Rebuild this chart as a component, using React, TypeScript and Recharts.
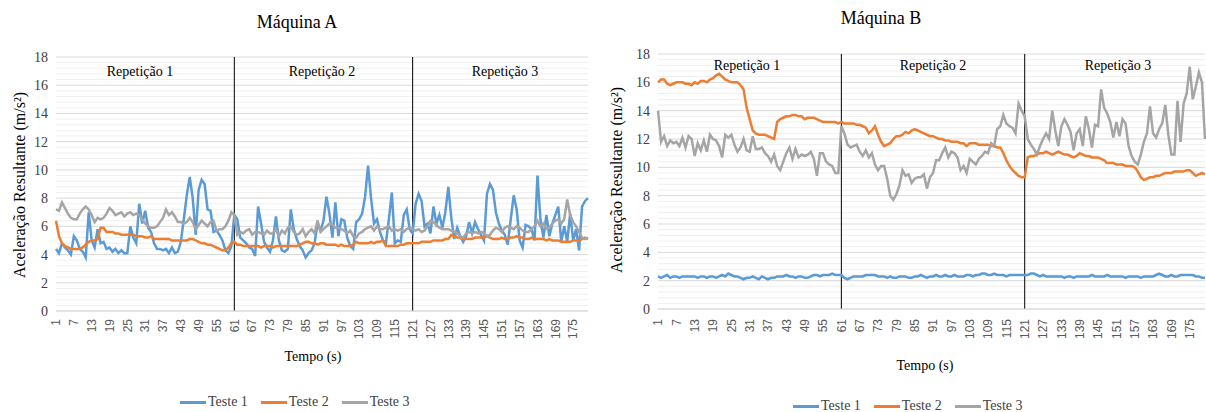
import React from 'react';
import { LineChart, Line, XAxis, YAxis, CartesianGrid, ReferenceLine } from 'recharts';

const seriesNames = ['Teste 1', 'Teste 2', 'Teste 3'];
const seriesColors = ['#5b9bd5', '#ed7d31', '#a5a5a5'];
const repLabels = ['Repetição 1', 'Repetição 2', 'Repetição 3'];
const repBoundaries = [61, 121];
const yTicks = [0, 2, 4, 6, 8, 10, 12, 14, 16, 18];
const minorY = [0.4, 0.8, 1.2, 1.6, 2.4, 2.8, 3.2, 3.6, 4.4, 4.8, 5.2, 5.6, 6.4, 6.8, 7.2, 7.6, 8.4, 8.8, 9.2, 9.6,
  10.4, 10.8, 11.2, 11.6, 12.4, 12.8, 13.2, 13.6, 14.4, 14.8, 15.2, 15.6, 16.4, 16.8, 17.2, 17.6];
const times = Array.from({ length: 180 }, (_, i) => i + 1);

// Máquina A
const aT1 = [
  4.4, 4.1, 4.8, 4.5, 4.3, 4.0, 5.3, 5.0, 4.4, 4.2,
  3.8, 7.0, 5.0, 4.5, 5.8, 4.8, 4.9, 4.4, 4.5, 4.2,
  4.4, 4.1, 4.3, 4.1, 4.1, 6.0, 5.2, 4.8, 7.6, 6.2,
  7.1, 5.9, 5.6, 4.8, 4.4, 4.4, 4.3, 4.4, 4.1, 4.5,
  4.1, 4.2, 4.9, 6.5, 8.2, 9.5, 8.0, 5.4, 8.6, 9.3,
  9.0, 7.2, 7.1, 5.6, 5.7, 5.4, 5.0, 4.3, 4.1, 4.6,
  6.8, 6.5, 5.2, 5.0, 4.8, 4.5, 4.4, 3.9, 7.4, 6.2,
  4.9, 4.5, 4.2, 5.0, 6.7, 5.0, 4.3, 4.2, 4.4, 7.2,
  5.8, 5.1, 4.6, 4.3, 3.8, 4.1, 4.3, 4.8, 6.2, 5.7,
  6.4, 8.1, 6.9, 5.2, 7.7, 5.3, 6.5, 6.4, 5.2, 4.6,
  4.4, 6.3, 6.5, 6.9, 8.1, 10.3, 8.0, 6.2, 6.5, 5.6,
  5.0, 4.8, 6.5, 8.4, 4.8, 5.0, 4.9, 6.8, 7.2, 5.8,
  5.5, 7.6, 8.3, 7.8, 6.0, 6.2, 5.5, 7.4, 6.2, 6.8,
  5.9, 7.0, 8.8, 6.6, 5.1, 5.9, 5.3, 4.9, 5.3, 6.3,
  5.5, 6.3, 5.8, 5.4, 5.0, 8.3, 9.0, 8.6, 7.0, 6.2,
  5.7, 5.4, 4.7, 6.5, 8.2, 7.2, 5.0, 4.5, 6.1, 6.0,
  5.8, 5.0, 9.6, 6.5, 5.2, 6.8, 5.3, 6.2, 6.8, 7.4,
  4.9, 6.0, 4.9, 6.9, 5.0, 5.8, 4.3, 7.4, 7.8, 8.0,
];
const aT2 = [
  6.4, 5.3, 4.8, 4.6, 4.5, 4.4, 4.4, 4.4, 4.4, 4.5,
  4.7, 4.9, 5.0, 5.0, 5.1, 5.9, 5.9, 5.6, 5.6, 5.6,
  5.5, 5.5, 5.4, 5.4, 5.4, 5.4, 5.4, 5.3, 5.3, 5.3,
  5.2, 5.2, 5.3, 5.1, 5.1, 5.1, 5.1, 5.1, 5.1, 5.0,
  5.0, 5.0, 5.0, 5.0, 5.0, 5.1, 5.1, 5.0, 4.9, 4.8,
  4.8, 4.7, 4.7, 4.6, 4.5, 4.4, 4.3, 4.3, 4.5, 4.8,
  4.9, 4.7, 4.7, 4.6, 4.6, 4.6, 4.6, 4.6, 4.6, 4.5,
  4.6, 4.6, 4.6, 4.5, 4.6, 4.6, 4.6, 4.6, 4.6, 4.6,
  4.6, 4.6, 4.7, 4.8, 4.9, 4.9, 4.8, 4.8, 4.7, 4.8,
  4.8, 4.7, 4.7, 4.7, 4.7, 4.6, 4.7, 4.6, 4.6, 4.6,
  4.7, 4.9, 4.8, 4.8, 4.8, 4.8, 4.9, 4.8, 4.9, 4.9,
  5.0, 4.6, 4.6, 4.6, 4.6, 4.6, 4.7, 4.7, 4.8, 4.8,
  4.8, 4.8, 4.8, 4.9, 4.9, 4.9, 4.9, 5.0, 5.0, 5.0,
  5.0, 5.1, 5.1, 5.4, 5.3, 5.2, 5.2, 5.1, 5.1, 5.1,
  5.1, 5.2, 5.2, 5.2, 5.2, 5.3, 5.2, 5.1, 5.1, 5.1,
  5.2, 5.1, 5.1, 5.2, 5.2, 5.3, 5.2, 5.2, 5.1, 5.1,
  5.2, 5.1, 5.1, 5.1, 5.1, 5.0, 5.1, 5.0, 5.0, 5.0,
  4.9, 4.9, 4.9, 4.9, 5.0, 5.0, 5.0, 5.1, 5.2, 5.1,
];
const aT3 = [
  7.2, 7.1, 7.7, 7.3, 6.9, 6.6, 6.5, 6.5, 6.9, 7.2,
  7.4, 7.2, 6.8, 6.3, 6.6, 6.5, 6.6, 6.9, 7.3, 7.1,
  6.8, 6.9, 7.0, 6.7, 6.9, 7.0, 6.8, 6.9, 6.8, 6.5,
  6.2, 6.0, 5.9, 5.9, 6.0, 6.3, 6.6, 7.2, 6.8, 7.0,
  6.7, 6.3, 6.3, 6.2, 6.3, 6.6, 6.3, 5.8, 6.1, 6.4,
  6.2, 6.0, 6.3, 6.4, 5.7, 5.8, 5.8, 6.0, 6.4, 7.0,
  6.8, 5.4, 5.6, 5.5, 5.7, 5.8, 5.4, 5.6, 5.6, 5.5,
  5.4, 5.7, 5.5, 5.5, 5.8, 5.3, 5.7, 5.5, 5.9, 6.0,
  5.6, 5.4, 5.5, 5.8, 5.3, 5.6, 5.8, 5.5, 6.4, 5.6,
  5.8, 6.0, 6.2, 6.1, 5.9, 5.9, 5.8, 5.7, 5.5, 5.7,
  5.3, 5.2, 5.5, 5.6, 5.8, 5.9, 6.0, 5.7, 6.0, 5.8,
  5.8, 5.9, 6.0, 5.7, 5.8, 5.7, 5.8, 5.6, 5.8, 5.9,
  5.8, 5.7, 5.8, 5.6, 5.7, 6.0, 6.4, 6.3, 6.1, 5.9,
  5.8, 5.8, 5.8, 5.7, 5.6, 5.5, 5.3, 5.2, 5.5, 5.6,
  5.5, 5.6, 5.5, 5.6, 5.5, 5.3, 5.4, 5.7, 5.9, 5.8,
  5.6, 5.9, 6.0, 5.9, 5.8, 6.0, 5.9, 5.7, 5.6, 5.6,
  5.8, 6.0, 6.4, 6.0, 6.2, 5.8, 5.9, 6.2, 6.4, 6.5,
  6.2, 6.5, 7.9, 6.8, 6.3, 6.0, 5.6, 5.2, 5.1, 5.2,
];

// Máquina B
const bT1 = [
  2.3, 2.2, 2.3, 2.4, 2.2, 2.3, 2.3, 2.2, 2.3, 2.3,
  2.3, 2.3, 2.3, 2.2, 2.3, 2.3, 2.2, 2.3, 2.3, 2.2,
  2.3, 2.4, 2.3, 2.5, 2.4, 2.3, 2.3, 2.2, 2.1, 2.2,
  2.2, 2.3, 2.2, 2.1, 2.3, 2.2, 2.1, 2.2, 2.2, 2.3,
  2.3, 2.3, 2.4, 2.3, 2.3, 2.2, 2.3, 2.3, 2.2, 2.2,
  2.3, 2.4, 2.4, 2.3, 2.4, 2.4, 2.4, 2.5, 2.4, 2.4,
  2.4, 2.2, 2.1, 2.2, 2.3, 2.3, 2.3, 2.3, 2.4, 2.4,
  2.4, 2.4, 2.3, 2.3, 2.3, 2.2, 2.3, 2.2, 2.2, 2.3,
  2.3, 2.3, 2.2, 2.2, 2.3, 2.3, 2.4, 2.3, 2.2, 2.3,
  2.3, 2.4, 2.3, 2.3, 2.4, 2.3, 2.3, 2.4, 2.3, 2.3,
  2.3, 2.4, 2.4, 2.3, 2.4, 2.4, 2.5, 2.5, 2.4, 2.4,
  2.5, 2.4, 2.4, 2.4, 2.3, 2.4, 2.4, 2.4, 2.4, 2.4,
  2.4, 2.4, 2.5, 2.5, 2.4, 2.3, 2.4, 2.3, 2.3, 2.3,
  2.3, 2.3, 2.3, 2.2, 2.3, 2.3, 2.2, 2.3, 2.3, 2.3,
  2.3, 2.3, 2.4, 2.3, 2.3, 2.3, 2.3, 2.4, 2.3, 2.3,
  2.3, 2.3, 2.3, 2.2, 2.3, 2.3, 2.3, 2.3, 2.2, 2.3,
  2.3, 2.3, 2.3, 2.4, 2.5, 2.4, 2.3, 2.3, 2.4, 2.3,
  2.3, 2.4, 2.4, 2.4, 2.4, 2.4, 2.3, 2.3, 2.2, 2.2,
];
const bT2 = [
  16.0, 16.2, 16.2, 15.9, 15.8, 15.9, 16.0, 16.0, 16.0, 15.9,
  15.9, 15.8, 16.0, 15.9, 16.1, 16.1, 16.0, 16.2, 16.3, 16.5,
  16.6, 16.4, 16.2, 16.1, 16.0, 16.0, 16.0, 15.8, 15.5, 14.2,
  13.4, 12.6, 12.4, 12.3, 12.3, 12.3, 12.2, 12.1, 12.0, 13.2,
  13.4, 13.5, 13.6, 13.6, 13.7, 13.7, 13.6, 13.6, 13.4, 13.5,
  13.5, 13.5, 13.4, 13.3, 13.2, 13.2, 13.2, 13.2, 13.2, 13.1,
  13.2, 13.1, 13.1, 13.1, 13.1, 13.0, 13.0, 12.9, 12.8, 12.4,
  12.6, 12.9, 12.3, 11.8, 11.5, 11.6, 11.7, 12.0, 12.2, 12.2,
  12.3, 12.5, 12.4, 12.6, 12.7, 12.6, 12.5, 12.4, 12.3, 12.2,
  12.2, 12.1, 12.0, 12.0, 11.9, 11.9, 11.8, 11.8, 11.8, 11.7,
  11.7, 11.5, 11.7, 11.7, 11.7, 11.6, 11.6, 11.6, 11.6, 11.5,
  11.5, 11.4, 11.4, 11.0, 10.5, 10.1, 9.8, 9.6, 9.4, 9.3,
  9.3, 10.7, 10.8, 10.8, 10.9, 11.0, 11.0, 11.1, 11.0, 10.9,
  11.0, 11.1, 11.0, 10.9, 10.9, 10.8, 10.7, 10.8, 11.0, 10.9,
  10.8, 10.8, 10.7, 10.7, 10.7, 10.6, 10.5, 10.3, 10.3, 10.3,
  10.2, 10.2, 10.2, 10.1, 10.1, 10.1, 10.0, 9.7, 9.3, 9.1,
  9.2, 9.3, 9.3, 9.4, 9.4, 9.5, 9.6, 9.6, 9.6, 9.7,
  9.7, 9.7, 9.7, 9.8, 9.8, 9.6, 9.4, 9.5, 9.6, 9.5,
];
const bT3 = [
  14.0, 11.8, 12.2, 11.5, 11.9, 11.7, 11.8, 11.5, 12.1, 11.4,
  12.2, 12.0, 10.8, 11.7, 11.2, 11.9, 11.1, 12.3, 12.0, 11.9,
  11.5, 10.7, 12.3, 12.1, 12.3, 11.6, 11.1, 11.4, 12.0, 11.2,
  11.1, 12.2, 11.3, 11.3, 11.4, 11.0, 10.8, 10.4, 10.9, 10.1,
  9.8, 10.4, 11.0, 11.4, 10.6, 11.3, 10.7, 10.9, 10.8, 10.9,
  11.1, 10.6, 9.4, 11.0, 11.0, 10.4, 10.2, 10.1, 9.6, 9.6,
  12.9, 12.4, 11.6, 11.4, 11.5, 11.6, 11.1, 10.8, 11.2, 10.7,
  11.0, 10.2, 9.8, 10.1, 10.1, 9.2, 8.0, 7.7, 8.1, 8.7,
  9.8, 9.4, 9.5, 8.9, 9.2, 9.3, 9.3, 9.5, 8.5, 9.3,
  9.6, 10.5, 10.5, 11.0, 11.4, 10.7, 11.1, 11.0, 10.7, 9.8,
  10.1, 9.6, 10.6, 10.4, 10.2, 10.6, 10.8, 11.1, 11.0, 11.7,
  11.5, 12.7, 12.9, 13.7, 13.1, 12.9, 12.8, 12.4, 14.5, 14.0,
  13.6, 12.0, 11.6, 11.3, 10.9, 11.5, 12.0, 12.4, 12.0, 14.0,
  12.6, 11.5, 12.9, 13.4, 13.0, 12.5, 11.2, 12.4, 12.7, 11.5,
  13.6, 12.7, 11.4, 13.0, 12.9, 15.5, 14.2, 13.8, 13.2, 12.1,
  13.2, 12.2, 13.4, 13.1, 11.5, 10.8, 10.4, 10.2, 10.9, 11.8,
  12.4, 14.3, 12.4, 12.1, 12.7, 13.1, 14.4, 12.3, 10.9, 10.9,
  14.7, 11.8, 14.5, 15.2, 17.1, 14.8, 15.7, 16.7, 16.0, 12.0,
];

const dataA = times.map((t, i) => ({ t, s1: aT1[i], s2: aT2[i], s3: aT3[i] }));
const dataB = times.map((t, i) => ({ t, s1: bT1[i], s2: bT2[i], s3: bT3[i] }));

const serif = '"Liberation Serif", "Times New Roman", serif';
const sans = '"Liberation Sans", Arial, sans-serif';

const makeTick = (offset: number) => (props: any) => {
  const { x, y, payload } = props;
  return (
    <g transform={`translate(${x},${y})`}>
      <text transform="rotate(-90)" x={-offset} y={0} dy="0.36em" textAnchor="end"
        fontSize={12} fill="#595959" fontFamily={sans}>{payload.value}</text>
    </g>
  );
};

type PanelProps = {
  data: any[];
  left: number;
  width: number;
  yAxisWidth: number;
  top: number;
  bottom: number;
  right: number;
  tickOffset: number;
};

function Panel({ data, left, width, yAxisWidth, top, bottom, right, tickOffset }: PanelProps) {
  return (
    <div style={{ position: 'absolute', left, top: 0 }}>
      <LineChart width={width} height={412} data={data}
        margin={{ top, right, bottom: bottom - 40, left: 0 }}>
        {minorY.map((v) => (
          <ReferenceLine key={'m' + v} y={v} stroke="#efefef" strokeWidth={1} ifOverflow="visible" />
        ))}
        <CartesianGrid vertical={false} stroke="#d9d9d9" strokeWidth={1} />
        <XAxis dataKey="t" type="category" interval={5} tickLine={false} tickSize={0} tickMargin={0}
          axisLine={{ stroke: '#d9d9d9' }} height={40} tick={makeTick(tickOffset)} />
        <YAxis domain={[0, 18]} ticks={yTicks} width={yAxisWidth} axisLine={false} tickLine={false}
          tick={{ fontSize: 14, fill: '#404040', fontFamily: serif }} interval={0} />
        {repBoundaries.map((b) => (
          <ReferenceLine key={'r' + b} x={b} stroke="#000" strokeWidth={1} />
        ))}
        {seriesColors.map((c, i) => (
          <Line key={i} type="linear" dataKey={'s' + (i + 1)} stroke={c} strokeWidth={2.5}
            dot={false} isAnimationActive={false} />
        ))}
      </LineChart>
    </div>
  );
}

function Legend({ left, top }: { left: number; top: number }) {
  return (
    <div style={{ position: 'absolute', left, top, display: 'flex', alignItems: 'center', gap: 13,
      fontFamily: serif, fontSize: 14, color: '#404040', whiteSpace: 'nowrap', lineHeight: '16px' }}>
      {seriesNames.map((n, i) => (
        <div key={n} style={{ display: 'flex', alignItems: 'center' }}>
          <div style={{ width: 26, height: 3, background: seriesColors[i], marginRight: 2 }} />
          <span>{n}</span>
        </div>
      ))}
    </div>
  );
}

function Text({ x, y, w, size, children, rotate }: any) {
  return (
    <div style={{ position: 'absolute', left: x - w / 2, top: y - 10, width: w, height: 20,
      lineHeight: '20px', textAlign: 'center', fontFamily: serif, fontSize: size, color: '#000',
      whiteSpace: 'nowrap', transform: rotate ? 'rotate(-90deg)' : undefined }}>
      {children}
    </div>
  );
}

export default function App() {
  return (
    <div style={{ position: 'absolute', left: 0, top: 0, width: 1206, height: 412, background: '#fff', overflow: 'hidden' }}>
      <Panel data={dataA} left={0} width={600} yAxisWidth={56} top={57} bottom={101} right={12} tickOffset={8} />
      <Panel data={dataB} left={600} width={606} yAxisWidth={58} top={54} bottom={103} right={1} tickOffset={10} />

      <Text x={297} y={22} w={200} size={18}>Máquina A</Text>
      <Text x={881} y={18} w={200} size={18}>Máquina B</Text>

      <Text x={140} y={72} w={120} size={14}>{repLabels[0]}</Text>
      <Text x={322} y={72} w={120} size={14}>{repLabels[1]}</Text>
      <Text x={505} y={72} w={120} size={14}>{repLabels[2]}</Text>
      <Text x={747} y={66} w={120} size={14}>{repLabels[0]}</Text>
      <Text x={933} y={66} w={120} size={14}>{repLabels[1]}</Text>
      <Text x={1118} y={66} w={120} size={14}>{repLabels[2]}</Text>

      <Text x={20} y={185} w={300} size={16} rotate>Aceleração Resultante (m/s²)</Text>
      <Text x={617} y={180} w={300} size={16} rotate>Aceleração Resultante (m/s²)</Text>

      <Text x={313} y={357} w={120} size={14}>Tempo (s)</Text>
      <Text x={925} y={366} w={120} size={14}>Tempo (s)</Text>

      <Legend left={180} top={394} />
      <Legend left={793} top={398} />
    </div>
  );
}
